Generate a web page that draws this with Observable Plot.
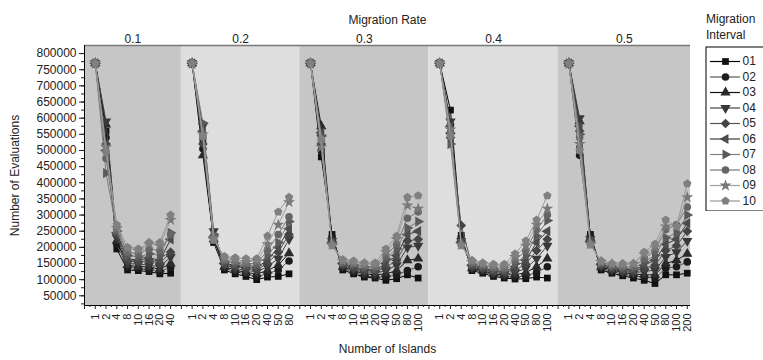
<!DOCTYPE html>
<html><head><meta charset="utf-8">
<script src="https://cdn.jsdelivr.net/npm/d3@7"></script>
<script src="https://cdn.jsdelivr.net/npm/@observablehq/plot@0.6"></script>
<style>
body{margin:0;background:#fff;font-family:"Liberation Sans",Arial,sans-serif;}
#wrap{position:relative;width:763px;height:360px;overflow:hidden;background:#fff;}
#chart{position:absolute;left:0;top:0;}
#legendTitle{position:absolute;left:706px;top:11px;font-size:12px;line-height:16px;color:#222;}
#legend{position:absolute;left:705px;top:46px;width:70px;height:165px;}
#legend svg{max-width:none;}
</style></head><body>
<div id="wrap"><div id="chart"></div><div id="legendTitle">Migration<br>Interval</div><div id="legend"></div></div>
<script>
// ---------- data ----------
const rates = ["0.1", "0.2", "0.3", "0.4", "0.5"];
const seriesNames = ["01", "02", "03", "04", "05", "06", "07", "08", "09", "10"];

const islands1 = [1, 2, 4, 8, 10, 16, 20, 40];
const islands2 = [1, 2, 4, 8, 10, 16, 20, 40, 50, 80];
const islands3 = [1, 2, 4, 8, 10, 16, 20, 40, 50, 80, 100];
const islands4 = [1, 2, 4, 8, 10, 16, 20, 40, 50, 80, 100];
const islands5 = [1, 2, 4, 8, 10, 16, 20, 40, 50, 80, 100, 200];

// evaluations, one row per migration interval 01..10
const evals1 = [
  [770000, 560000, 195000, 130000, 128000, 125000, 118000, 120000],
  [770000, 540000, 210000, 138000, 135000, 130000, 125000, 138000],
  [770000, 580000, 220000, 145000, 140000, 140000, 132000, 150000],
  [770000, 590000, 230000, 150000, 148000, 145000, 140000, 170000],
  [770000, 520000, 240000, 158000, 155000, 160000, 150000, 185000],
  [770000, 500000, 245000, 165000, 160000, 168000, 160000, 225000],
  [770000, 430000, 250000, 175000, 170000, 180000, 175000, 245000],
  [770000, 475000, 255000, 185000, 180000, 195000, 190000, 240000],
  [770000, 510000, 260000, 195000, 190000, 210000, 205000, 285000],
  [770000, 495000, 270000, 200000, 195000, 215000, 215000, 300000]
];
const evals2 = [
  [770000, 530000, 215000, 130000, 118000, 110000, 100000, 108000, 110000, 118000],
  [770000, 505000, 220000, 135000, 125000, 118000, 110000, 118000, 130000, 158000],
  [770000, 485000, 225000, 140000, 130000, 122000, 118000, 128000, 145000, 182000],
  [770000, 575000, 250000, 145000, 135000, 128000, 125000, 140000, 165000, 225000],
  [770000, 520000, 235000, 148000, 140000, 135000, 130000, 150000, 185000, 240000],
  [770000, 560000, 230000, 150000, 145000, 140000, 138000, 160000, 200000, 258000],
  [770000, 585000, 240000, 155000, 150000, 145000, 145000, 175000, 215000, 280000],
  [770000, 540000, 232000, 160000, 155000, 150000, 150000, 190000, 240000, 295000],
  [770000, 550000, 228000, 165000, 160000, 155000, 158000, 210000, 270000, 340000],
  [770000, 545000, 222000, 172000, 168000, 165000, 165000, 235000, 310000, 355000]
];
const evals3 = [
  [770000, 480000, 240000, 130000, 118000, 108000, 105000, 98000, 103000, 115000, 105000],
  [770000, 500000, 232000, 135000, 122000, 112000, 108000, 108000, 115000, 128000, 140000],
  [770000, 575000, 225000, 140000, 128000, 118000, 115000, 118000, 128000, 160000, 165000],
  [770000, 540000, 220000, 145000, 132000, 122000, 120000, 128000, 145000, 200000, 205000],
  [770000, 520000, 215000, 148000, 135000, 128000, 125000, 138000, 160000, 220000, 225000],
  [770000, 555000, 212000, 150000, 140000, 132000, 130000, 150000, 175000, 240000, 250000],
  [770000, 545000, 210000, 152000, 145000, 138000, 135000, 165000, 195000, 260000, 280000],
  [770000, 530000, 210000, 155000, 150000, 142000, 140000, 175000, 210000, 290000, 310000],
  [770000, 510000, 208000, 158000, 152000, 148000, 145000, 185000, 225000, 330000, 320000],
  [770000, 535000, 205000, 162000, 158000, 152000, 152000, 195000, 235000, 355000, 360000]
];
const evals4 = [
  [770000, 625000, 237000, 128000, 120000, 110000, 105000, 102000, 103000, 108000, 105000],
  [770000, 580000, 232000, 132000, 125000, 115000, 110000, 108000, 112000, 122000, 140000],
  [770000, 560000, 225000, 135000, 128000, 118000, 115000, 115000, 122000, 140000, 165000],
  [770000, 590000, 220000, 138000, 132000, 122000, 118000, 122000, 135000, 165000, 205000],
  [770000, 540000, 268000, 142000, 135000, 125000, 122000, 130000, 148000, 190000, 225000],
  [770000, 575000, 215000, 145000, 138000, 128000, 125000, 140000, 160000, 215000, 250000],
  [770000, 520000, 212000, 148000, 140000, 132000, 130000, 150000, 175000, 235000, 283000],
  [770000, 555000, 210000, 152000, 145000, 138000, 135000, 160000, 190000, 255000, 300000],
  [770000, 565000, 208000, 155000, 148000, 142000, 140000, 170000, 205000, 270000, 320000],
  [770000, 545000, 205000, 160000, 152000, 148000, 148000, 180000, 220000, 285000, 360000]
];
const evals5 = [
  [770000, 505000, 240000, 130000, 120000, 112000, 105000, 98000, 88000, 115000, 115000, 120000],
  [770000, 485000, 235000, 135000, 125000, 118000, 112000, 108000, 105000, 135000, 140000, 155000],
  [770000, 590000, 230000, 138000, 130000, 122000, 118000, 115000, 115000, 150000, 160000, 180000],
  [770000, 600000, 225000, 142000, 132000, 125000, 122000, 125000, 130000, 170000, 185000, 220000],
  [770000, 560000, 220000, 145000, 135000, 128000, 125000, 135000, 145000, 190000, 205000, 250000],
  [770000, 575000, 218000, 148000, 138000, 132000, 130000, 145000, 160000, 210000, 225000, 275000],
  [770000, 550000, 215000, 150000, 140000, 135000, 135000, 155000, 175000, 230000, 245000, 300000],
  [770000, 540000, 212000, 152000, 145000, 140000, 140000, 165000, 190000, 255000, 270000, 325000],
  [770000, 520000, 210000, 155000, 148000, 145000, 148000, 178000, 200000, 265000, 265000, 355000],
  [770000, 500000, 208000, 158000, 150000, 150000, 150000, 185000, 210000, 285000, 265000, 397000]
];

const yTicks = d3.range(50000, 800001, 50000);
const yMinor = d3.range(25000, 812500, 25000);

// ---------- styles ----------
const Y_MIN = 20000, Y_MAX = 825000, X_MAX = 56.3;
const shadeDark = "#c6c6c6", shadeLight = "#dedede";
const lineColors = ["#000000", "#5a5a5a", "#111111", "#444444", "#555555", "#3c3c3c", "#808080", "#777777", "#a0a0a0", "#999999"];
const markColors = ["#111111", "#1c1c1c", "#2a2a2a", "#383838", "#444444", "#4c4c4c", "#5a5a5a", "#666666", "#777777", "#808080"];

const sqrt3 = Math.sqrt(3);
const triDown = {draw(c, s) { const y = -Math.sqrt(s / (sqrt3 * 3)); c.moveTo(0, -2 * y); c.lineTo(-sqrt3 * y, y); c.lineTo(sqrt3 * y, y); c.closePath(); }};
const triLeft = {draw(c, s) { const y = -Math.sqrt(s / (sqrt3 * 3)); c.moveTo(2 * y, 0); c.lineTo(-y, -sqrt3 * y); c.lineTo(-y, sqrt3 * y); c.closePath(); }};
const triRight = {draw(c, s) { const y = -Math.sqrt(s / (sqrt3 * 3)); c.moveTo(-2 * y, 0); c.lineTo(y, -sqrt3 * y); c.lineTo(y, sqrt3 * y); c.closePath(); }};
const diamondSq = {draw(c, s) { const r = Math.sqrt(s) * 0.72; c.moveTo(0, -r); c.lineTo(r, 0); c.lineTo(0, r); c.lineTo(-r, 0); c.closePath(); }};
const pentagon = {draw(c, s) { const r = Math.sqrt(s) * 0.66; for (let i = 0; i < 5; i++) { const a = -Math.PI / 2 + i * 2 * Math.PI / 5; const px = r * Math.cos(a), py = r * Math.sin(a); if (i === 0) c.moveTo(px, py); else c.lineTo(px, py); } c.closePath(); }};
const symbols = ["square", "circle", "triangle", triDown, diamondSq, triLeft, triRight, "circle", "star", pentagon];

// ---------- build tables ----------
const islandsByRate = [islands1, islands2, islands3, islands4, islands5];
const evalsByRate = [evals1, evals2, evals3, evals4, evals5];
const rows = [], xTicks = [], panels = [];
let start = 1;
rates.forEach((rate, p) => {
  const isl = islandsByRate[p];
  isl.forEach((n, j) => xTicks.push({pos: start + j, label: String(n)}));
  seriesNames.forEach((s, k) => evalsByRate[p][k].forEach((v, j) => rows.push({rate, series: s, k, pos: start + j, value: v})));
  panels.push({rate, x1: start - 1, x2: Math.min(start + isl.length, X_MAX), fill: p % 2 === 0 ? shadeDark : shadeLight});
  start += isl.length + 1;
});
const labelOf = new Map(xTicks.map(d => [d.pos, d.label]));

const seriesMarks = [];
for (let k = 0; k < seriesNames.length; k++) {
  const sub = rows.filter(d => d.k === k);
  seriesMarks.push(Plot.line(sub, {x: "pos", y: "value", z: "rate", stroke: lineColors[k], strokeWidth: 1}));
  seriesMarks.push(Plot.dot(sub, {x: "pos", y: "value", symbol: symbols[k], fill: markColors[k], stroke: "none", r: 3.8}));
}

const font = "'Liberation Sans', Arial, sans-serif";
const chart = Plot.plot({
  width: 763, height: 360,
  marginLeft: 84, marginRight: 73, marginTop: 45, marginBottom: 55,
  style: {fontFamily: font, fontSize: "11px", color: "#222", background: "transparent"},
  x: {domain: [0, X_MAX]},
  y: {domain: [Y_MIN, Y_MAX]},
  marks: [
    Plot.rect(panels, {x1: "x1", x2: "x2", y1: Y_MIN, y2: Y_MAX, fill: "fill"}),
    Plot.ruleY([Y_MAX], {stroke: "#7a7a7a", strokeWidth: 1.5}),
    ...seriesMarks,
    Plot.ruleX([0], {stroke: "#000"}),
    Plot.ruleY([Y_MIN], {stroke: "#000"}),
    Plot.axisY(yTicks, {tickSize: 5, tickPadding: 3, tickFormat: d => String(d), fontSize: 12, label: null}),
    Plot.axisY(yMinor, {tickSize: 3, tickFormat: () => "", label: null}),
    Plot.axisX(d3.range(0, 57, 1).filter(v => v <= X_MAX), {tickSize: 4, tickFormat: () => "", label: null}),
    Plot.axisX(d3.range(0.5, 57, 1).filter(v => v <= X_MAX), {tickSize: 2, tickFormat: () => "", label: null}),
    Plot.axisX(xTicks.map(d => d.pos), {tickSize: 0, tickPadding: 8, tickRotate: -90, tickFormat: v => labelOf.get(v), fontSize: 11, label: null}),
    Plot.text(panels, {x: d => (d.x1 + d.x2) / 2, text: "rate", frameAnchor: "top", dy: -11, fontSize: 12, fill: "#222"}),
    Plot.text(["Migration Rate"], {frameAnchor: "top", dy: -30, fontSize: 12, fill: "#222"}),
    Plot.text(["Number of Islands"], {frameAnchor: "bottom", dy: 47, fontSize: 12, fill: "#222"}),
    Plot.text(["Number of Evaluations"], {frameAnchor: "left", dx: -69, rotate: -90, textAnchor: "middle", fontSize: 12, fill: "#222"})
  ]
});
document.getElementById("chart").appendChild(chart);

// ---------- legend ----------
const legendRows = seriesNames.map((name, k) => ({name, k}));
const legendMarks = [
  Plot.frame({stroke: "#000", inset: 0.5}),
  ...legendRows.map(d => Plot.ruleY([d], {y: "k", x1: 5, x2: 35, stroke: lineColors[d.k], strokeWidth: 1.2})),
  ...legendRows.map(d => Plot.dot([d], {y: "k", x: 20, symbol: symbols[d.k], fill: markColors[d.k], r: 3.8})),
  Plot.text(legendRows, {y: "k", x: 37, text: "name", textAnchor: "start", fontSize: 12, fill: "#222"})
];
const legend = Plot.plot({
  width: 70, height: 165, margin: 0,
  style: {fontFamily: font, background: "transparent"},
  x: {domain: [0, 70], range: [0, 70], axis: null},
  y: {domain: [0, 9], range: [15, 154.5], axis: null},
  marks: legendMarks
});
document.getElementById("legend").appendChild(legend);
</script>
</body></html>
